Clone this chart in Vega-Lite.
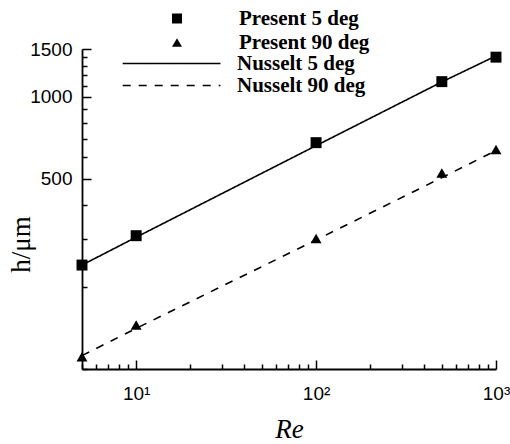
{
  "$schema": "https://vega.github.io/schema/vega-lite/v6.json",
  "width": 414,
  "height": 320,
  "autosize": "none",
  "padding": {"left": 82, "top": 49, "right": 14, "bottom": 75},
  "background": "white",
  "config": {
    "view": {"stroke": null},
    "axis": {"grid": false, "ticks": true, "domainColor": "black", "tickColor": "black", "tickOpacity": 1, "domainWidth": 1.8, "tickWidth": 1.5, "labelColor": "black", "titleColor": "black", "labelFont": "Liberation Sans", "labelFontSize": 19, "labelFontWeight": "normal"}
  },
  "data": {
    "values": [
      {"Re": 5, "h": 241, "series": "Present 5 deg"},
      {"Re": 10, "h": 309, "series": "Present 5 deg"},
      {"Re": 100, "h": 679, "series": "Present 5 deg"},
      {"Re": 500, "h": 1138, "series": "Present 5 deg"},
      {"Re": 1000, "h": 1400, "series": "Present 5 deg"},
      {"Re": 5, "h": 111, "series": "Present 90 deg"},
      {"Re": 10, "h": 145, "series": "Present 90 deg"},
      {"Re": 100, "h": 302, "series": "Present 90 deg"},
      {"Re": 500, "h": 525, "series": "Present 90 deg"},
      {"Re": 1000, "h": 641, "series": "Present 90 deg"},
      {"Re": 5, "h": 241, "series": "Nusselt 5 deg"},
      {"Re": 10, "h": 305, "series": "Nusselt 5 deg"},
      {"Re": 100, "h": 662, "series": "Nusselt 5 deg"},
      {"Re": 500, "h": 1135, "series": "Nusselt 5 deg"},
      {"Re": 1000, "h": 1415, "series": "Nusselt 5 deg"},
      {"Re": 5, "h": 112, "series": "Nusselt 90 deg"},
      {"Re": 10, "h": 141, "series": "Nusselt 90 deg"},
      {"Re": 100, "h": 298, "series": "Nusselt 90 deg"},
      {"Re": 500, "h": 505, "series": "Nusselt 90 deg"},
      {"Re": 1000, "h": 635, "series": "Nusselt 90 deg"}
    ]
  },
  "resolve": {"axis": {"x": "independent", "y": "independent"}},
  "layer": [
    {
      "transform": [{"filter": "indexof(datum.series, 'Nusselt') == 0"}],
      "mark": {"type": "line", "color": "black", "strokeWidth": 1.6},
      "encoding": {
        "x": {
          "field": "Re", "type": "quantitative",
          "scale": {"type": "log", "domain": [5, 1000], "nice": false},
          "axis": {
            "orient": "bottom",
            "ticks": false,
            "labels": false,
            "title": "Re",
            "titleFont": "Liberation Serif",
            "titleFontStyle": "italic",
            "titleFontWeight": "normal",
            "titleFontSize": 27,
            "titleBaseline": "top",
            "titleY": 47
          }
        },
        "y": {
          "field": "h", "type": "quantitative",
          "scale": {"type": "log", "domain": [100, 1500], "nice": false},
          "axis": {
            "orient": "left",
            "ticks": false,
            "labels": false,
            "title": "h/μm",
            "titleFont": "Liberation Serif",
            "titleFontWeight": "normal",
            "titleFontSize": 27,
            "titleY": 195,
            "titleX": -47
          }
        },
        "strokeDash": {
          "field": "series", "type": "nominal",
          "scale": {"domain": ["Nusselt 5 deg", "Nusselt 90 deg"], "range": [[1, 0], [8, 8]]},
          "legend": {
            "title": null,
            "orient": "none",
            "legendX": 80,
            "legendY": 4,
            "padding": 0,
            "symbolType": "M-8.3,0H8",
            "symbolSize": 144,
            "symbolStrokeWidth": 1.6,
            "symbolStrokeColor": "black",
            "labelOffset": 54,
            "rowPadding": 0,
            "labelFont": "Liberation Serif",
            "labelFontWeight": "bold",
            "labelFontSize": 21,
            "labelColor": "black"
          }
        }
      }
    },
    {
      "transform": [{"filter": "indexof(datum.series, 'Present') == 0"}],
      "mark": {"type": "point", "filled": true, "color": "black", "opacity": 1, "size": 120},
      "encoding": {
        "x": {
          "field": "Re", "type": "quantitative",
          "scale": {"type": "log", "domain": [5, 1000], "nice": false},
          "axis": {
            "orient": "bottom",
            "zindex": 1,
            "values": [10, 100, 1000],
            "labelExpr": "datum.value == 10 ? '10¹' : datum.value == 100 ? '10²' : '10³'",
            "ticks": true,
            "tickSize": -9,
            "domain": false,
            "labelPadding": 24,
            "labelFlush": false,
            "labelOverlap": false,
            "title": null
          }
        },
        "y": {
          "field": "h", "type": "quantitative",
          "scale": {"type": "log", "domain": [100, 1500], "nice": false},
          "axis": {
            "orient": "left",
            "zindex": 1,
            "values": [500, 1000, 1500],
            "ticks": true,
            "tickSize": -9,
            "domain": false,
            "labelPadding": 19,
            "labelFlush": false,
            "labelOverlap": false,
            "format": "d",
            "title": null
          }
        },
        "shape": {
          "field": "series", "type": "nominal",
          "scale": {"domain": ["Present 5 deg", "Present 90 deg"], "range": ["square", "triangle-up"]},
          "legend": {
            "title": null,
            "orient": "none",
            "legendX": 84.5,
            "legendY": -41,
            "padding": 0,
            "symbolSize": 100,
            "symbolFillColor": "black",
            "symbolStrokeWidth": 0,
            "symbolOpacity": 1,
            "labelOffset": 51.5,
            "rowPadding": 2,
            "labelFont": "Liberation Serif",
            "labelFontWeight": "bold",
            "labelFontSize": 21,
            "labelColor": "black"
          }
        }
      }
    },
    {
      "transform": [{"filter": "indexof(datum.series, 'Present') == 0"}],
      "mark": {"type": "point", "opacity": 0},
      "encoding": {
        "x": {
          "field": "Re", "type": "quantitative",
          "scale": {"type": "log", "domain": [5, 1000], "nice": false},
          "axis": {
            "orient": "bottom",
            "zindex": 1,
            "values": [5,6,7,8,9,20,30,40,50,60,70,80,90,200,300,400,500,600,700,800,900],
            "ticks": true,
            "tickSize": -5,
            "labels": false,
            "domain": false,
            "title": null
          }
        },
        "y": {
          "field": "h", "type": "quantitative",
          "scale": {"type": "log", "domain": [100, 1500], "nice": false},
          "axis": {
            "orient": "left",
            "zindex": 1,
            "values": [100,200,300,400,600,700,800,900,1100,1200,1300,1400],
            "ticks": true,
            "tickSize": -5,
            "labels": false,
            "domain": false,
            "title": null
          }
        }
      }
    }
  ]
}
